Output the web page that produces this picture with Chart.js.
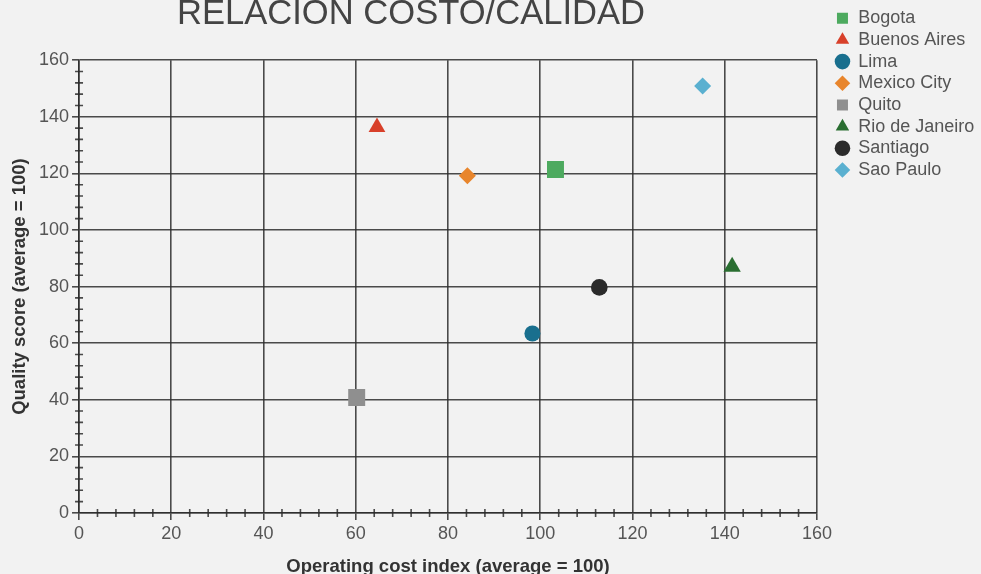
<!DOCTYPE html>
<html lang="es">
<head>
  <meta charset="UTF-8">
  <title>Relacion costo/calidad</title>
  <script src="https://cdn.jsdelivr.net/npm/chart.js"></script>
  <style>
    html, body { margin: 0; padding: 0; background: #f2f2f2; }
    #wrap { width: 981px; height: 574px; }
  </style>
</head>
<body>
  <div id="wrap"><canvas id="costChart"></canvas></div>

  <script>
    // valores
    const cities = ['Bogota', 'Buenos Aires', 'Lima', 'Mexico City', 'Quito', 'Rio de Janeiro', 'Santiago', 'Sao Paulo'];
    const costIndex = [103.3, 64.6, 98.3, 84.2, 60.2, 141.6, 112.8, 135.2];
    const qualityScore = [121.4, 136.3, 63.4, 119.2, 40.8, 87.0, 79.7, 150.9];
    const axisTicks = [0, 20, 40, 60, 80, 100, 120, 140, 160];

    const colors = ['#4daa5f', '#d8402a', '#196f8e', '#e8852c', '#8f8f8f', '#2a6e31', '#2b2b2b', '#5ab0d0'];
    const shapes = ['rect', 'triangle', 'circle', 'rectRot', 'rect', 'triangle', 'circle', 'rectRot'];
    const radii = [12, 9.7, 8, 8.5, 12, 10, 8.3, 8.5];

    const gridColor = 'rgba(45,45,45,0.85)';
    const font = 'Arial, "Liberation Sans", sans-serif';

    const datasets = cities.map((name, i) => ({
      label: name,
      data: [{ x: costIndex[i], y: qualityScore[i] }],
      backgroundColor: colors[i],
      borderColor: colors[i],
      borderWidth: 0,
      pointStyle: shapes[i],
      pointRadius: radii[i],
      pointHoverRadius: radii[i]
    }));

    // marcas menores que cruzan los ejes
    const minorTicks = {
      id: 'minorTicks',
      afterDatasetsDraw(chart) {
        const { ctx, chartArea, scales } = chart;
        ctx.save();
        ctx.strokeStyle = gridColor;
        ctx.lineWidth = 1.6;
        ctx.beginPath();
        for (let v = 4; v < axisTicks[axisTicks.length - 1]; v += 4) {
          if (v % 20 === 0) continue;
          const px = scales.x.getPixelForValue(v);
          ctx.moveTo(px, chartArea.bottom - 4);
          ctx.lineTo(px, chartArea.bottom + 4);
          const py = scales.y.getPixelForValue(v);
          ctx.moveTo(chartArea.left - 4, py);
          ctx.lineTo(chartArea.left + 4, py);
        }
        ctx.stroke();
        ctx.restore();
      }
    };

    // titulo centrado sobre la zona a la izquierda de la leyenda
    const titleShift = {
      id: 'titleShift',
      afterLayout(chart) {
        const t = chart.titleBlock;
        t.left = 0;
        t.right = chart.legend.left - 10;
        t.width = t.right - t.left;
      }
    };

    const ctx = document.getElementById('costChart').getContext('2d');
    new Chart(ctx, {
      type: 'scatter',
      data: { datasets },
      plugins: [minorTicks, titleShift],
      options: {
        responsive: true,
        maintainAspectRatio: false,
        animation: false,
        layout: { padding: { top: 5.6, right: 0, bottom: 0, left: 0 } },
        plugins: {
          title: {
            display: true,
            text: 'RELACION COSTO/CALIDAD',
            fullSize: false,
            color: '#444',
            font: { family: font, size: 34.6, weight: 'normal', lineHeight: 1 },
            padding: { top: -8, bottom: 28 }
          },
          legend: {
            position: 'right',
            align: 'start',
            maxWidth: 149,
            labels: {
              usePointStyle: true,
              boxWidth: 13.6,
              boxHeight: 11,
              padding: 3.67,
              color: '#555',
              font: { family: font, size: 18 }
            }
          },
          tooltip: { enabled: false }
        },
        scales: {
          x: {
            type: 'linear',
            min: axisTicks[0],
            max: axisTicks[axisTicks.length - 1],
            afterBuildTicks(scale) { scale.ticks = axisTicks.map(v => ({ value: v })); },
            grid: { color: gridColor, lineWidth: 1.6, tickLength: 7, tickColor: gridColor },
            border: { color: gridColor, width: 1.6 },
            ticks: { color: '#555', padding: 3, maxRotation: 0, font: { family: font, size: 18 } },
            title: {
              display: true,
              text: 'Operating cost index (average = 100)',
              color: '#333',
              font: { family: font, size: 18.5, weight: 'bold', lineHeight: 1 },
              padding: { top: 10, bottom: -2 }
            }
          },
          y: {
            type: 'linear',
            min: axisTicks[0],
            max: axisTicks[axisTicks.length - 1],
            afterBuildTicks(scale) { scale.ticks = axisTicks.map(v => ({ value: v })); },
            grid: { color: gridColor, lineWidth: 1.6, tickLength: 7, tickColor: gridColor },
            border: { color: gridColor, width: 1.6 },
            ticks: { color: '#555', padding: 3, font: { family: font, size: 18 } },
            title: {
              display: true,
              text: 'Quality score (average = 100)',
              color: '#333',
              font: { family: font, size: 18.5, weight: 'bold', lineHeight: 1 },
              padding: { top: 11, bottom: 6.5 }
            }
          },
          spacer: {
            type: 'linear',
            position: 'right',
            display: true,
            grid: { display: false, drawTicks: false },
            border: { display: false },
            ticks: { display: false },
            afterFit(scale) { scale.width = 15; }
          }
        }
      }
    });
  </script>
</body>
</html>
